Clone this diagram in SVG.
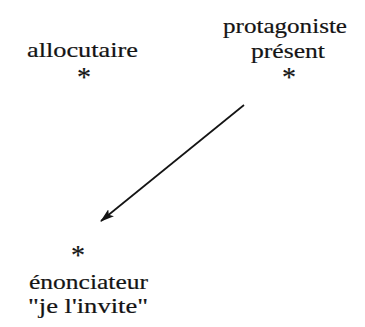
<svg xmlns="http://www.w3.org/2000/svg" width="365" height="327" viewBox="0 0 365 327">
<defs>
<style>
text{font-family:'Liberation Serif','Times New Roman',serif;fill:#141414;stroke:#141414;stroke-width:0.2}
.t{font-size:21px}
.s{font-size:28px;text-anchor:middle}
.c{stroke:#141414;stroke-width:1.7;fill:none}
</style>
<marker id="ah" viewBox="0 0 14 9" refX="13" refY="4.5" markerWidth="14" markerHeight="9" markerUnits="userSpaceOnUse" orient="auto">
<path d="M0,0 L14,4.5 L0,9 L3,4.5 Z" fill="#141414"/>
</marker>
</defs>
<rect width="365" height="327" fill="#fff"/>
<g id="protagoniste">
<text class="t" x="223" y="33" textLength="124" lengthAdjust="spacingAndGlyphs">protagoniste</text>
<text class="t" x="251" y="58" textLength="74" lengthAdjust="spacingAndGlyphs">présent</text>
<text class="s" x="289" y="86">*</text>
</g>
<g id="allocutaire">
<text class="t" x="27" y="57" textLength="111" lengthAdjust="spacingAndGlyphs">allocutaire</text>
<text class="s" x="84" y="86">*</text>
</g>
<g id="enonciateur">
<text class="s" x="78" y="264">*</text>
<text class="t" x="29" y="289" textLength="119" lengthAdjust="spacingAndGlyphs">énonciateur</text>
<text class="t" x="28" y="313" textLength="120" lengthAdjust="spacingAndGlyphs">"je l'invite"</text>
</g>
<g id="connectors">
<line class="c" x1="244" y1="105" x2="101" y2="221" marker-end="url(#ah)"/>
</g>
</svg>
